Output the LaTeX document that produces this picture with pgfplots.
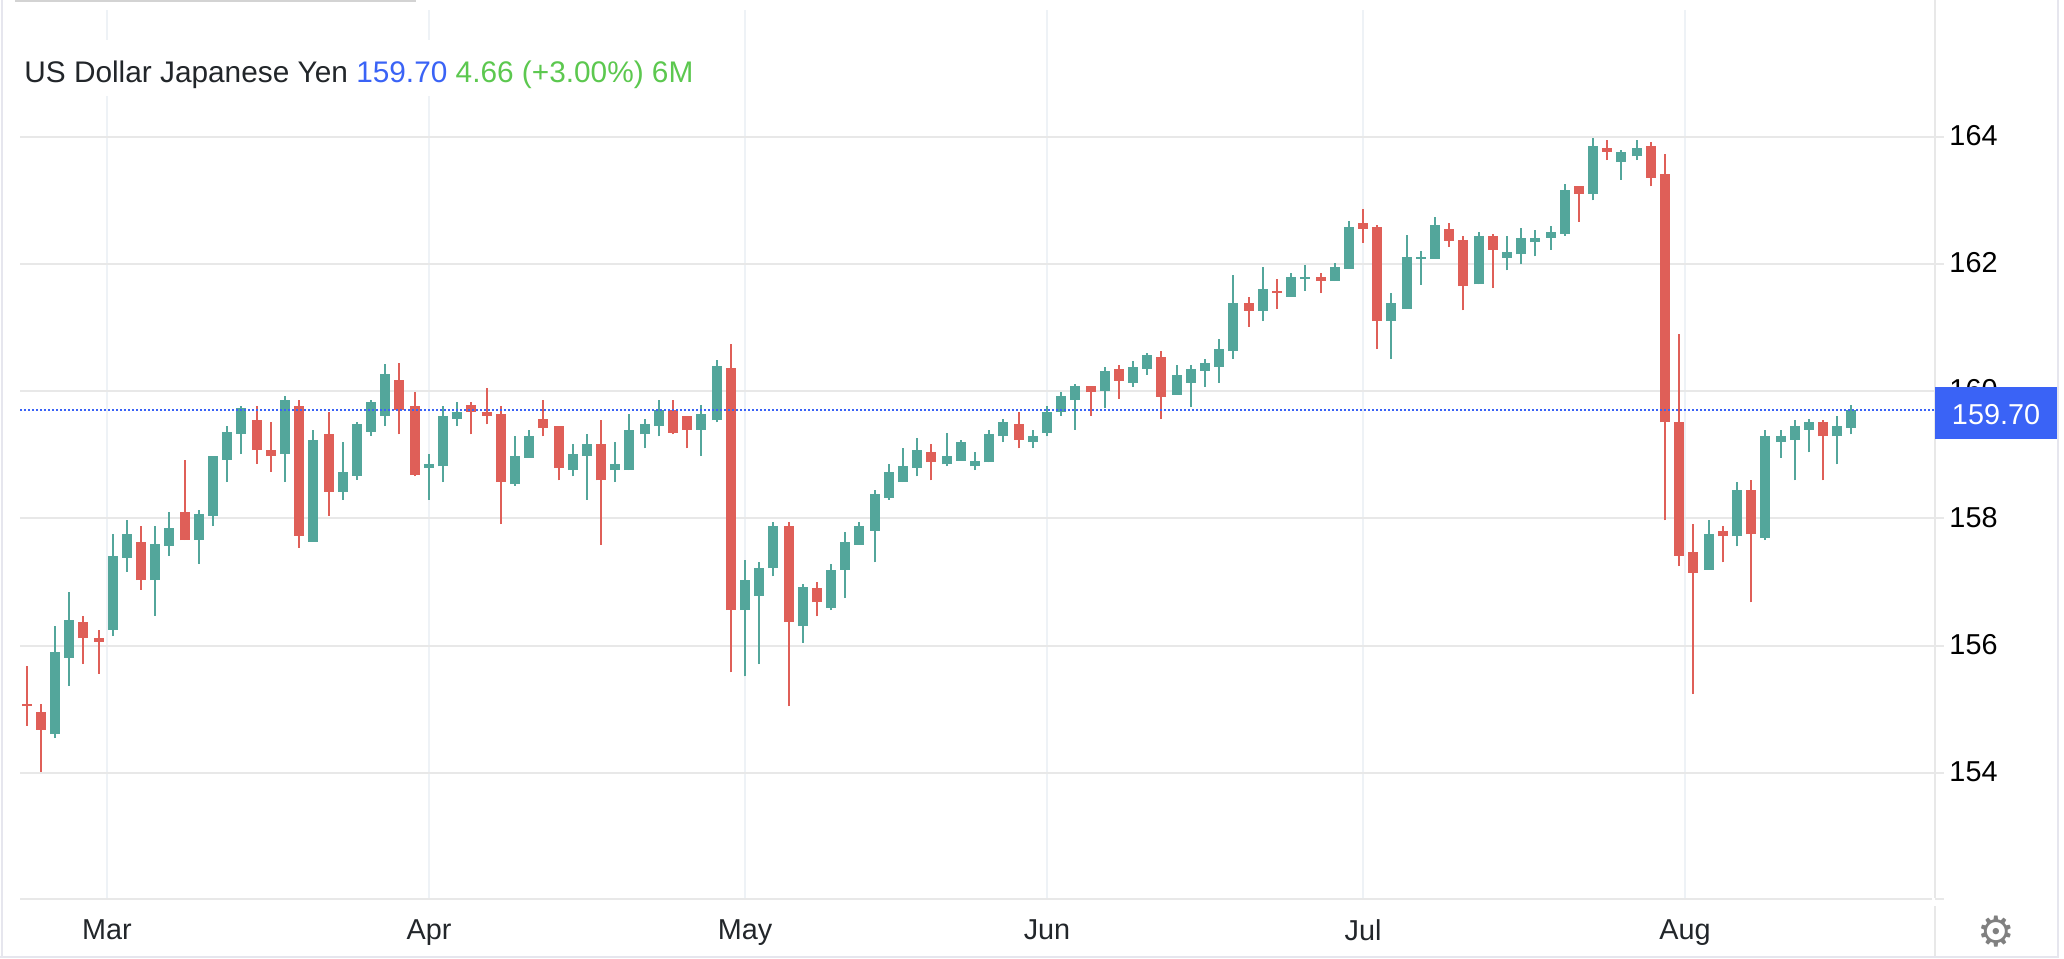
\documentclass[border=0pt]{standalone}
\usepackage{fontspec}
\usepackage{pgfplots}
\usepackage{pgfplotstable}
\pgfplotsset{compat=1.18}
\setmainfont{Liberation Sans}
\newfontfamily\djv{DejaVu Sans}
\definecolor{cgreen}{HTML}{53A69B}
\definecolor{cred}{HTML}{DF5F58}
\definecolor{cblue}{HTML}{3A63F6}
\definecolor{tgreen}{HTML}{5CC84F}
\definecolor{hgrid}{HTML}{E8E8E8}
\definecolor{vgrid}{HTML}{EEF2F6}
\definecolor{bord}{HTML}{E6E6EE}
\definecolor{tdark}{HTML}{22262A}
\pgfplotstableread{
x lo bl bh hi
55 154.55 154.61 155.90 156.31
69 155.37 155.81 156.41 156.85
113 156.15 156.25 157.41 157.76
127 157.16 157.38 157.76 157.98
155 156.47 157.03 157.60 157.88
169 157.41 157.57 157.85 158.10
199 157.29 157.66 158.07 158.13
213 157.88 158.04 158.98 158.98
227 158.57 158.92 159.36 159.45
241 159.01 159.33 159.74 159.77
285 158.57 159.01 159.86 159.93
313 157.63 157.63 159.23 159.39
343 158.29 158.42 158.73 159.20
357 158.61 158.67 159.49 159.52
371 159.30 159.36 159.83 159.86
385 159.45 159.61 160.27 160.43
429 158.29 158.79 158.85 159.01
443 158.57 158.82 159.61 159.76
457 159.45 159.57 159.67 159.83
515 158.51 158.54 158.98 159.29
529 158.95 158.95 159.29 159.39
573 158.66 158.76 159.01 159.17
587 158.29 158.98 159.17 159.32
615 158.57 158.76 158.85 159.20
629 158.76 158.76 159.39 159.64
645 159.10 159.32 159.48 159.57
659 159.29 159.45 159.70 159.86
701 158.98 159.39 159.64 159.79
717 159.51 159.54 160.39 160.49
745 155.52 156.56 157.03 157.34
759 155.71 156.78 157.22 157.31
773 157.09 157.22 157.88 157.94
803 156.05 156.31 156.93 156.97
831 156.56 156.59 157.19 157.28
845 156.75 157.19 157.63 157.78
859 157.59 157.59 157.88 157.94
875 157.31 157.81 158.38 158.44
889 158.29 158.32 158.73 158.85
903 158.57 158.57 158.82 159.10
917 158.66 158.79 159.07 159.26
947 158.82 158.85 158.98 159.35
961 158.91 158.91 159.20 159.23
975 158.76 158.82 158.91 159.04
989 158.88 158.88 159.32 159.39
1003 159.20 159.29 159.51 159.57
1033 159.10 159.20 159.29 159.39
1047 159.29 159.35 159.67 159.76
1061 159.61 159.67 159.92 159.98
1075 159.39 159.86 160.08 160.11
1105 159.73 160.00 160.32 160.38
1133 160.07 160.13 160.38 160.48
1147 160.26 160.35 160.57 160.60
1177 159.94 159.94 160.26 160.41
1191 159.75 160.13 160.35 160.41
1205 160.07 160.32 160.44 160.51
1219 160.13 160.38 160.66 160.82
1233 160.51 160.63 161.39 161.83
1263 161.10 161.26 161.61 161.95
1291 161.48 161.48 161.80 161.86
1305 161.58 161.76 161.80 161.98
1335 161.73 161.73 161.95 162.02
1349 161.92 161.92 162.58 162.68
1391 160.51 161.10 161.39 161.54
1407 161.29 161.29 162.11 162.46
1421 161.67 162.08 162.11 162.20
1435 162.08 162.08 162.61 162.74
1479 161.68 161.68 162.44 162.50
1507 161.90 162.09 162.19 162.44
1521 162.00 162.15 162.41 162.56
1535 162.12 162.34 162.41 162.53
1551 162.22 162.41 162.50 162.59
1565 162.44 162.47 163.16 163.25
1593 163.00 163.10 163.85 163.98
1621 163.32 163.60 163.76 163.79
1637 163.63 163.69 163.82 163.95
1709 157.19 157.19 157.75 157.97
1737 157.56 157.72 158.44 158.57
1765 157.66 157.69 159.29 159.39
1781 158.95 159.20 159.29 159.39
1795 158.60 159.23 159.45 159.54
1809 159.04 159.39 159.51 159.57
1837 158.85 159.29 159.45 159.61
1851 159.32 159.42 159.70 159.79
}\upt
\pgfplotstableread{
x lo bl bh hi
27 154.74 155.05 155.08 155.68
41 154.02 154.68 154.96 155.08
83 155.71 156.12 156.37 156.47
99 155.56 156.06 156.12 156.25
141 156.88 157.03 157.63 157.88
185 157.66 157.66 158.10 158.92
257 158.86 159.08 159.55 159.77
271 158.73 158.98 159.08 159.52
299 157.54 157.73 159.77 159.86
329 158.04 158.42 159.33 159.67
399 159.32 159.70 160.17 160.45
415 158.66 158.69 159.76 159.98
471 159.32 159.67 159.79 159.83
487 159.48 159.61 159.67 160.05
501 157.91 158.57 159.64 159.76
543 159.29 159.42 159.57 159.86
559 158.60 158.79 159.45 159.45
601 157.59 158.60 159.17 159.54
673 159.32 159.35 159.70 159.86
687 159.10 159.39 159.61 159.61
731 155.58 156.56 160.36 160.74
789 155.05 156.37 157.88 157.94
817 156.46 156.68 156.90 157.00
931 158.60 158.88 159.04 159.17
1019 159.10 159.23 159.48 159.67
1091 159.61 159.98 160.08 160.08
1119 159.88 160.16 160.35 160.41
1161 159.56 159.91 160.54 160.63
1249 161.01 161.26 161.39 161.48
1277 161.29 161.54 161.58 161.76
1321 161.54 161.73 161.80 161.86
1363 162.33 162.55 162.64 162.86
1377 160.66 161.10 162.58 162.61
1449 162.27 162.36 162.55 162.64
1463 161.27 161.65 162.37 162.44
1493 161.62 162.22 162.44 162.47
1579 162.66 163.10 163.22 163.22
1607 163.63 163.76 163.82 163.95
1651 163.22 163.35 163.85 163.91
1665 157.97 159.51 163.41 163.73
1679 157.25 157.41 159.51 160.90
1693 155.24 157.15 157.47 157.91
1723 157.31 157.72 157.81 157.88
1751 156.68 157.75 158.44 158.60
1823 158.60 159.29 159.51 159.54
}\downt
\newcommand{\candles}[2]{%
\addplot[forget plot,draw=none,mark=none,error bars/.cd,y dir=plus,y explicit,error mark=none,
  error bar style={draw=#2,solid,line width=1pt}]
  table[x=x,y=lo,y error expr=\thisrow{hi}-\thisrow{lo}] {#1};
\addplot[forget plot,draw=none,mark=none,error bars/.cd,y dir=plus,y explicit,error mark=none,
  error bar style={draw=#2,solid,line width=5pt}]
  table[x=x,y=bl,y error expr=\thisrow{bh}-\thisrow{bl}] {#1};
}
\begin{document}
\begin{tikzpicture}
\begin{axis}[
  scale only axis, width=956pt, height=444.5pt,
  xmin=20, xmax=1932, ymin=152.02, ymax=165.99,
  axis line style={draw=none},
  x tick style={draw=none},
  y tick style={draw=hgrid,line width=1pt},
  ytick align=outside, major tick length=6pt,
  xtick={107,429,745,1047,1363,1685},
  xticklabels={Mar,Apr,May,Jun,Jul,Aug},
  ytick={154,156,158,160,162,164},
  ytick pos=right,
  yticklabel pos=right,
  /pgf/number format/assume math mode=true,
  /pgf/number format/.cd,1000 sep={},/tikz/.cd,
  ticklabel style={font=\fontsize{14.4}{16}\selectfont},
  yticklabel style={xshift=-0.8pt,yshift=0.6pt,text=black},
  xticklabel style={yshift=-6.6pt,text=tdark},
  xmajorgrids, ymajorgrids,
  x grid style={draw=vgrid,line width=1pt,solid},
  y grid style={draw=hgrid,line width=1pt,solid},
  clip=false,
]
\candles{\upt}{cgreen}
\candles{\downt}{cred}
\addplot[forget plot,cblue,line width=1pt,dash pattern=on 1pt off 1pt] coordinates {(20,159.70)(1935,159.70)};
\end{axis}
\begin{scope}[shift={(-10pt,449.5pt)},x=0.5pt,y=-0.5pt]
\path[use as bounding box] (0,0) rectangle (2064,958);
% frame
\fill[white] (20,40) rectangle (700,96);
\fill[hgrid] (20,898) rectangle (1932,900);
\fill[hgrid] (1935,898) rectangle (1944,900);
\fill[hgrid] (1934,0) rectangle (1936,898);
\fill[hgrid] (1934,906) rectangle (1936,958);
\fill[bord] (1,0) rectangle (3,958);
\fill[bord] (2057,0) rectangle (2059,958);
\fill[bord] (0,956) rectangle (2059,958);
\fill[hgrid!80!gray] (15,0) rectangle (416,2);
% price tag
\fill[cblue] (1935,387) rectangle (2057,439);
\node[text=white,font=\fontsize{14.4}{16}\selectfont,anchor=center] at (1996,415) {159.70};
% title
\node[anchor=base west,inner sep=0pt,font=\fontsize{14.9}{16}\selectfont] at (24,83)
 {\textcolor{tdark}{US Dollar Japanese Yen} \textcolor{cblue}{159.70} \textcolor{tgreen}{4.66 (+3.00\%) 6M}};
% gear
\node[text=gray,font=\djv\fontsize{21}{22}\selectfont,inner sep=0pt] at (1996,932) {⚙};
\end{scope}
\end{tikzpicture}
\end{document}
